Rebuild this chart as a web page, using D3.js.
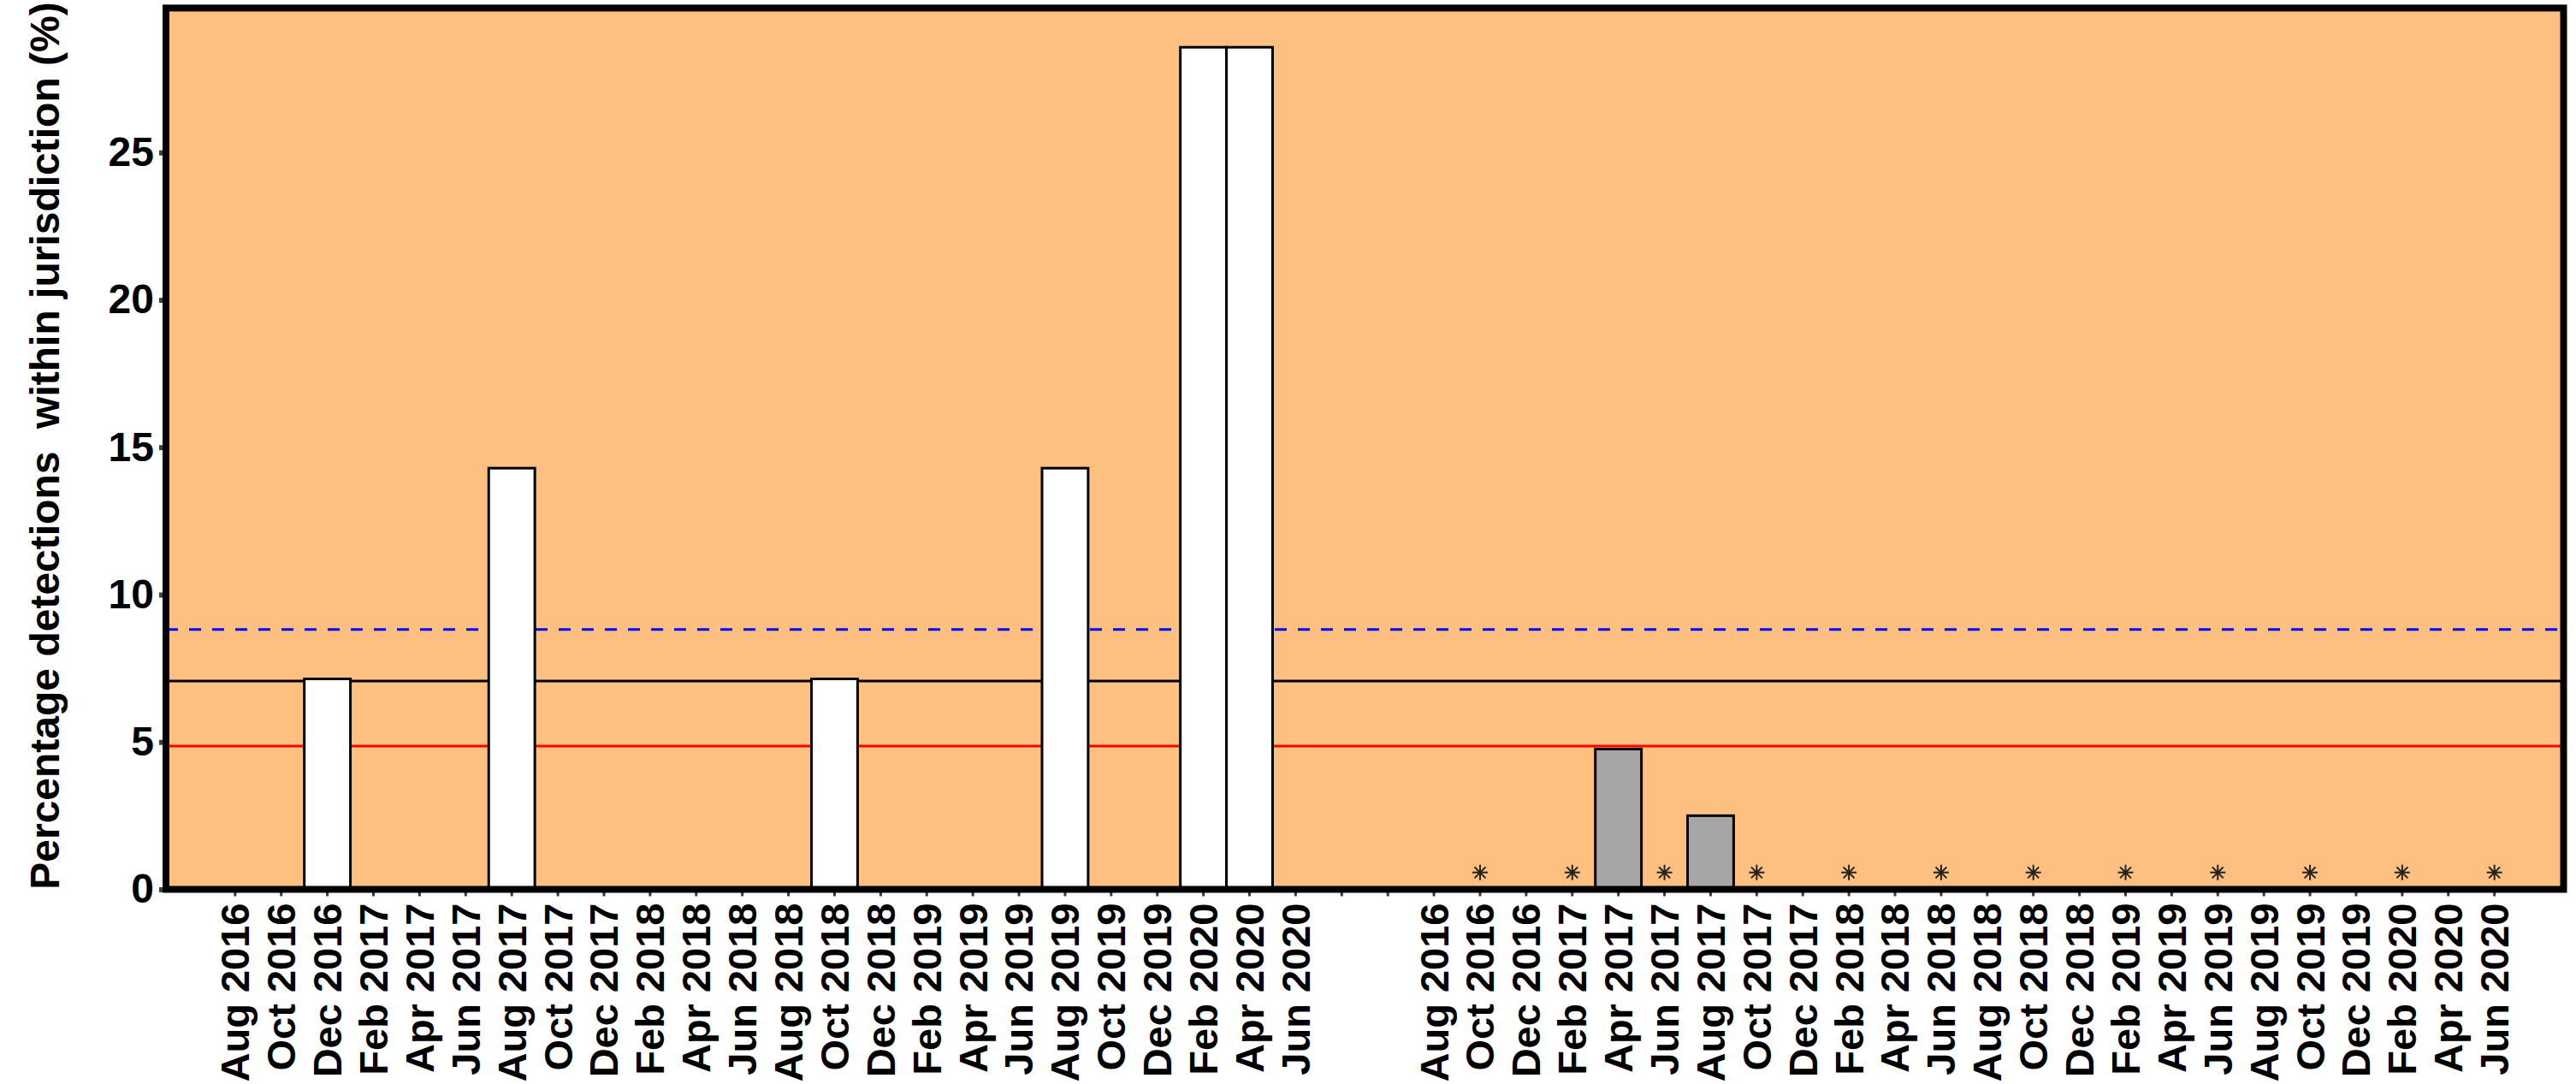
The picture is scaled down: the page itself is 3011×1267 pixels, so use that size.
<!DOCTYPE html>
<html>
<head>
<meta charset="utf-8">
<script src="https://cdn.jsdelivr.net/npm/d3@7"></script>
<style>
  body { margin: 0; background: #fff; }
  text { font-family: "Liberation Sans", Arial, sans-serif; font-weight: bold; }
</style>
</head>
<body>
<div id="chart-area"></div>
<script>
// months shown in each of the two panels
var months = ["Aug 2016", "Oct 2016", "Dec 2016", "Feb 2017", "Apr 2017", "Jun 2017",
    "Aug 2017", "Oct 2017", "Dec 2017", "Feb 2018", "Apr 2018", "Jun 2018",
    "Aug 2018", "Oct 2018", "Dec 2018", "Feb 2019", "Apr 2019", "Jun 2019",
    "Aug 2019", "Oct 2019", "Dec 2019", "Feb 2020", "Apr 2020", "Jun 2020"];

// left panel (white bars), % detections
var leftValues = [0, 0, 7.14, 0, 0, 0, 14.29, 0, 0, 0, 0, 0,
    0, 7.14, 0, 0, 0, 0, 14.29, 0, 0, 28.57, 28.57, 0];

// right panel (grey bars)
var rightValues = [0, 0, 0, 0, 4.76, 0, 2.5, 0, 0, 0, 0, 0,
    0, 0, 0, 0, 0, 0, 0, 0, 0, 0, 0, 0];

// months in right panel flagged with an asterisk
var starMonths = ["Oct 2016", "Feb 2017", "Jun 2017", "Oct 2017", "Feb 2018", "Jun 2018",
    "Oct 2018", "Feb 2019", "Jun 2019", "Oct 2019", "Feb 2020", "Jun 2020"];
var starValue = 0.57;

// reference lines
var refValues = [8.82, 7.07, 4.86];
var refNames = ["dashed", "black", "red"];

var yTicks = [0, 5, 10, 15, 20, 25];
var yTitle = "Percentage detections  within jurisdiction (%)";

var W = 3011, H = 1267;
var pLeft = 194, pRight = 2996.5, pTop = 9.4, pBottom = 1039.5;

var svg = d3.select("#chart-area")
    .append("svg")
        .attr("width", W)
        .attr("height", H);

// category keys: left panel, two empty slots, right panel
var keys = months.map(function(m){ return "L|" + m; })
    .concat(["gap1", "gap2"])
    .concat(months.map(function(m){ return "R|" + m; }));

var x = d3.scaleBand()
    .domain(keys)
    .range([pLeft, pRight])
    .paddingInner(0)
    .paddingOuter(1);

var y = d3.scaleLinear()
    .domain([0, 29.9])
    .range([pBottom, pTop]);

// plot background
svg.append("rect")
    .attr("x", pLeft)
    .attr("y", pTop)
    .attr("width", pRight - pLeft)
    .attr("height", pBottom - pTop)
    .attr("fill", "#fec080");

// reference lines (behind bars)
var refStyle = {
    dashed: { color: "#0000ff", dash: "14,13" },
    black:  { color: "#000000", dash: null },
    red:    { color: "#ff0000", dash: null }
};
svg.selectAll("line.ref")
    .data(refValues)
    .enter().append("line")
        .attr("class", "ref")
        .attr("x1", pLeft)
        .attr("x2", pRight)
        .attr("y1", function(d){ return y(d); })
        .attr("y2", function(d){ return y(d); })
        .attr("stroke", function(d, i){ return refStyle[refNames[i]].color; })
        .attr("stroke-width", 3)
        .attr("stroke-dasharray", function(d, i){ return refStyle[refNames[i]].dash; });

// bars
var bars = months.map(function(m, i){ return { key: "L|" + m, value: leftValues[i], fill: "#ffffff" }; })
    .concat(months.map(function(m, i){ return { key: "R|" + m, value: rightValues[i], fill: "#a6a6a6" }; }))
    .filter(function(d){ return d.value > 0; });

svg.selectAll("rect.bar")
    .data(bars)
    .enter().append("rect")
        .attr("class", "bar")
        .attr("x", function(d){ return x(d.key); })
        .attr("y", function(d){ return y(d.value); })
        .attr("width", x.bandwidth())
        .attr("height", function(d){ return y(0) - y(d.value); })
        .attr("fill", function(d){ return d.fill; })
        .attr("stroke", "#000")
        .attr("stroke-width", 3);

// asterisk markers
var star = {
    draw: function(context, size) {
        var r = Math.sqrt(size) / 2, q = r * 0.72;
        context.moveTo(0, -r); context.lineTo(0, r);
        context.moveTo(-r, 0); context.lineTo(r, 0);
        context.moveTo(-q, -q); context.lineTo(q, q);
        context.moveTo(-q, q); context.lineTo(q, -q);
    }
};
svg.selectAll("path.star")
    .data(starMonths)
    .enter().append("path")
        .attr("class", "star")
        .attr("transform", function(d){
            return "translate(" + (x("R|" + d) + x.bandwidth() / 2) + "," + y(starValue) + ")";
        })
        .attr("d", d3.symbol().type(star).size(324))
        .attr("fill", "none")
        .attr("stroke", "#222")
        .attr("stroke-width", 2);

// X Axis
var xAxisGroup = svg.append("g")
    .attr("transform", "translate(0," + pBottom + ")")
    .call(d3.axisBottom(x)
        .tickSize(8)
        .tickFormat(function(d){ return d.indexOf("|") > 0 ? d.split("|")[1] : ""; }));
xAxisGroup.select(".domain").remove();
xAxisGroup.selectAll(".tick line")
    .attr("stroke", "#3a3a3a")
    .attr("stroke-width", 3);
xAxisGroup.selectAll(".tick text")
    .attr("transform", "rotate(-90)")
    .attr("x", -16)
    .attr("y", 0)
    .attr("dy", "0.35em")
    .attr("text-anchor", "end")
    .attr("fill", "#000")
    .attr("font-size", "47px");

// Y Axis
var yAxisGroup = svg.append("g")
    .attr("transform", "translate(" + pLeft + ",0)")
    .call(d3.axisLeft(y)
        .tickValues(yTicks)
        .tickSize(8)
        .tickPadding(6));
yAxisGroup.select(".domain").remove();
yAxisGroup.selectAll(".tick line")
    .attr("stroke", "#404040")
    .attr("stroke-width", 6);
yAxisGroup.selectAll(".tick text")
    .attr("fill", "#000")
    .attr("font-size", "48px");

// frame
svg.append("rect")
    .attr("x", pLeft)
    .attr("y", pTop)
    .attr("width", pRight - pLeft)
    .attr("height", pBottom - pTop)
    .attr("fill", "none")
    .attr("stroke", "#000")
    .attr("stroke-width", 8);

// Y Label
svg.append("text")
    .attr("transform", "translate(69,521) rotate(-90)")
    .attr("text-anchor", "middle")
    .attr("font-size", "48px")
    .attr("xml:space", "preserve")
    .style("white-space", "pre")
    .text(yTitle);
</script>
</body>
</html>
